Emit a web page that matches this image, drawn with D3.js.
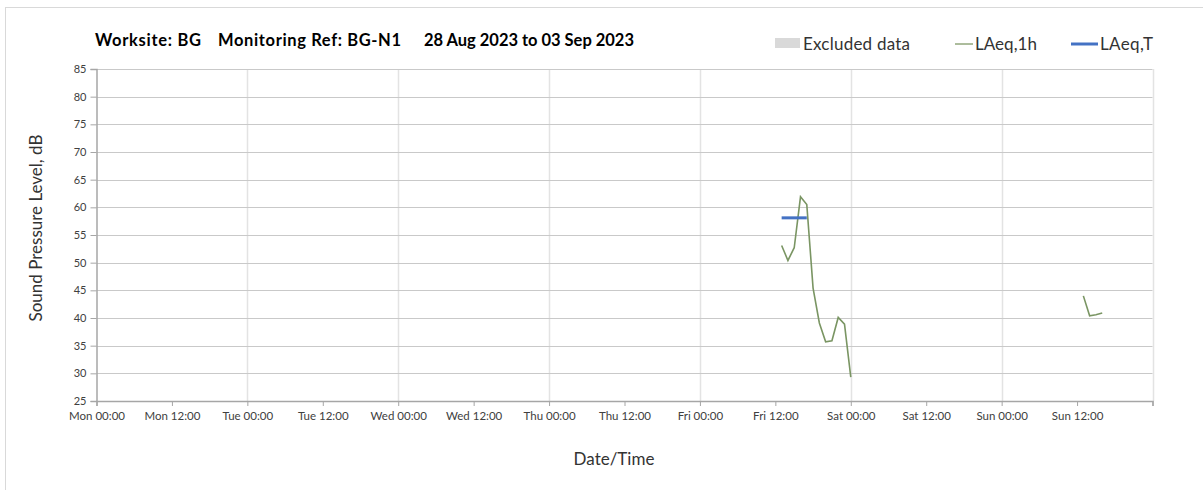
<!DOCTYPE html>
<html>
<head>
<meta charset="utf-8">
<script src="https://cdn.jsdelivr.net/npm/d3@7"></script>
<style>
  html, body { margin: 0; padding: 0; background: #fff; }
  svg { display: block; font-family: Lato, "Open Sans", sans-serif; }
</style>
</head>
<body>
<svg id="chart" width="1203" height="490"></svg>
<script>
// ---- data (hours since Mon 00:00) ----
const laeq1hHours = [109, 110, 111, 112, 113, 114, 115, 116, 117, 118, 119, 120, 157, 158, 159, 160];
const laeq1hValues = [53.1, 50.4, 52.7, 61.9, 60.5, 45.4, 39.1, 35.7, 35.9, 40.1, 38.9, 29.3, 44.0, 40.4, 40.6, 40.9];
const laeq1hSegment = [0, 0, 0, 0, 0, 0, 0, 0, 0, 0, 0, 0, 1, 1, 1, 1];
const laeqTHours = [109, 113];
const laeqTValues = [58.1, 58.1];
const xTickHours = [0, 12, 24, 36, 48, 60, 72, 84, 96, 108, 120, 132, 144, 156, 168];
const xTickLabels = ["Mon 00:00", "Mon 12:00", "Tue 00:00", "Tue 12:00", "Wed 00:00", "Wed 12:00",
  "Thu 00:00", "Thu 12:00", "Fri 00:00", "Fri 12:00", "Sat 00:00", "Sat 12:00", "Sun 00:00", "Sun 12:00", ""];
const yTicks = [25, 30, 35, 40, 45, 50, 55, 60, 65, 70, 75, 80, 85];
const legendLabels = ["Excluded data", "LAeq,1h", "LAeq,T"];

const svg = d3.select("#chart");

// outer frame
svg.append("rect").attr("x", 5.5).attr("y", 7.5).attr("width", 1210).attr("height", 500)
  .attr("fill", "none").attr("stroke", "#d9d9d9").attr("stroke-width", 1);

const x = d3.scaleLinear().domain([0, 168]).range([96.5, 1152.5]);
const y = d3.scaleLinear().domain([25, 85]).range([401, 69]);

// gridlines
const g = svg.append("g");
g.selectAll(".vgrid").data(xTickHours.filter(h => h % 24 === 0 && h > 0)).enter().append("line")
  .attr("x1", d => Math.round(x(d)) + 0.5).attr("x2", d => Math.round(x(d)) + 0.5)
  .attr("y1", y(85)).attr("y2", y(25))
  .attr("stroke", "#e3e3e3").attr("stroke-width", 1.5);
g.selectAll(".hgrid").data(yTicks.filter(v => v > 25)).enter().append("line")
  .attr("x1", x(0)).attr("x2", x(168))
  .attr("y1", d => Math.round(y(d)) + 0.5).attr("y2", d => Math.round(y(d)) + 0.5)
  .attr("stroke", "#c9c9c9").attr("stroke-width", 1.2);

// y axis
const yAxis = svg.append("g").attr("transform", `translate(${x(0)},0)`)
  .call(d3.axisLeft(y).tickValues(yTicks).tickSize(6).tickPadding(4).tickFormat(d3.format("d")));
yAxis.select(".domain").attr("stroke", "#a6a6a6").attr("stroke-width", 1.5);
yAxis.selectAll(".tick line").attr("stroke", "#a6a6a6");
yAxis.selectAll(".tick text").attr("fill", "#404040").style("font-size", "11px")
  .style("font-family", "Lato, sans-serif");

// x axis
const xAxis = svg.append("g").attr("transform", `translate(0,${y(25)})`)
  .call(d3.axisBottom(x).tickValues(xTickHours).tickSize(5).tickPadding(6)
    .tickFormat((d, i) => xTickLabels[i]));
xAxis.select(".domain").attr("stroke", "#a6a6a6").attr("stroke-width", 1.5);
xAxis.selectAll(".tick line").attr("stroke", "#a6a6a6");
xAxis.selectAll(".tick text").attr("fill", "#404040").style("font-size", "11.5px")
  .style("font-family", "Lato, sans-serif");

// LAeq,1h line
const pts = laeq1hHours.map((h, i) => ({ h, v: laeq1hValues[i], s: laeq1hSegment[i] }));
const segs = d3.groups(pts, d => d.s).map(d => d[1]);
const line = d3.line().x(d => x(d.h)).y(d => y(d.v));
svg.append("g").selectAll("path").data(segs).enter().append("path")
  .attr("d", line).attr("fill", "none").attr("stroke", "#7a9563").attr("stroke-width", 1.6);

// LAeq,T line
svg.append("path")
  .attr("d", d3.line().x(d => x(d[0])).y(d => y(d[1]))(laeqTHours.map((h, i) => [h, laeqTValues[i]])))
  .attr("fill", "none").attr("stroke", "#4472c4").attr("stroke-width", 3);

// title
const title = svg.append("g").style("font-weight", "bold").style("font-size", "16.5px").attr("fill", "#000");
title.append("text").attr("x", 95).attr("y", 46).text("Worksite: BG").attr("textLength", 106);
title.append("text").attr("x", 218).attr("y", 46).text("Monitoring Ref: BG-N1").attr("textLength", 183);
title.append("text").attr("x", 424).attr("y", 46).text("28 Aug 2023 to 03 Sep 2023").attr("textLength", 210);

// legend
const lg = svg.append("g").style("font-size", "17px").attr("fill", "#333");
lg.append("rect").attr("x", 775).attr("y", 38).attr("width", 25).attr("height", 10).attr("fill", "#d9d9d9");
lg.append("text").attr("x", 803).attr("y", 50).text(legendLabels[0]).attr("textLength", 107);
lg.append("line").attr("x1", 955).attr("x2", 973).attr("y1", 44).attr("y2", 44)
  .attr("stroke", "#5b7a3a").attr("stroke-width", 1);
lg.append("text").attr("x", 975).attr("y", 50).text(legendLabels[1]).attr("textLength", 62);
lg.append("line").attr("x1", 1071).attr("x2", 1098).attr("y1", 44).attr("y2", 44)
  .attr("stroke", "#4472c4").attr("stroke-width", 3);
lg.append("text").attr("x", 1100).attr("y", 50).text(legendLabels[2]).attr("textLength", 53);

// axis titles
svg.append("text").attr("x", 614).attr("y", 465).attr("text-anchor", "middle")
  .style("font-size", "17px").attr("fill", "#333").text("Date/Time");
svg.append("text").attr("transform", "translate(42,228) rotate(-90)").attr("text-anchor", "middle")
  .style("font-size", "17px").attr("fill", "#333").text("Sound Pressure Level, dB");
</script>
</body>
</html>
